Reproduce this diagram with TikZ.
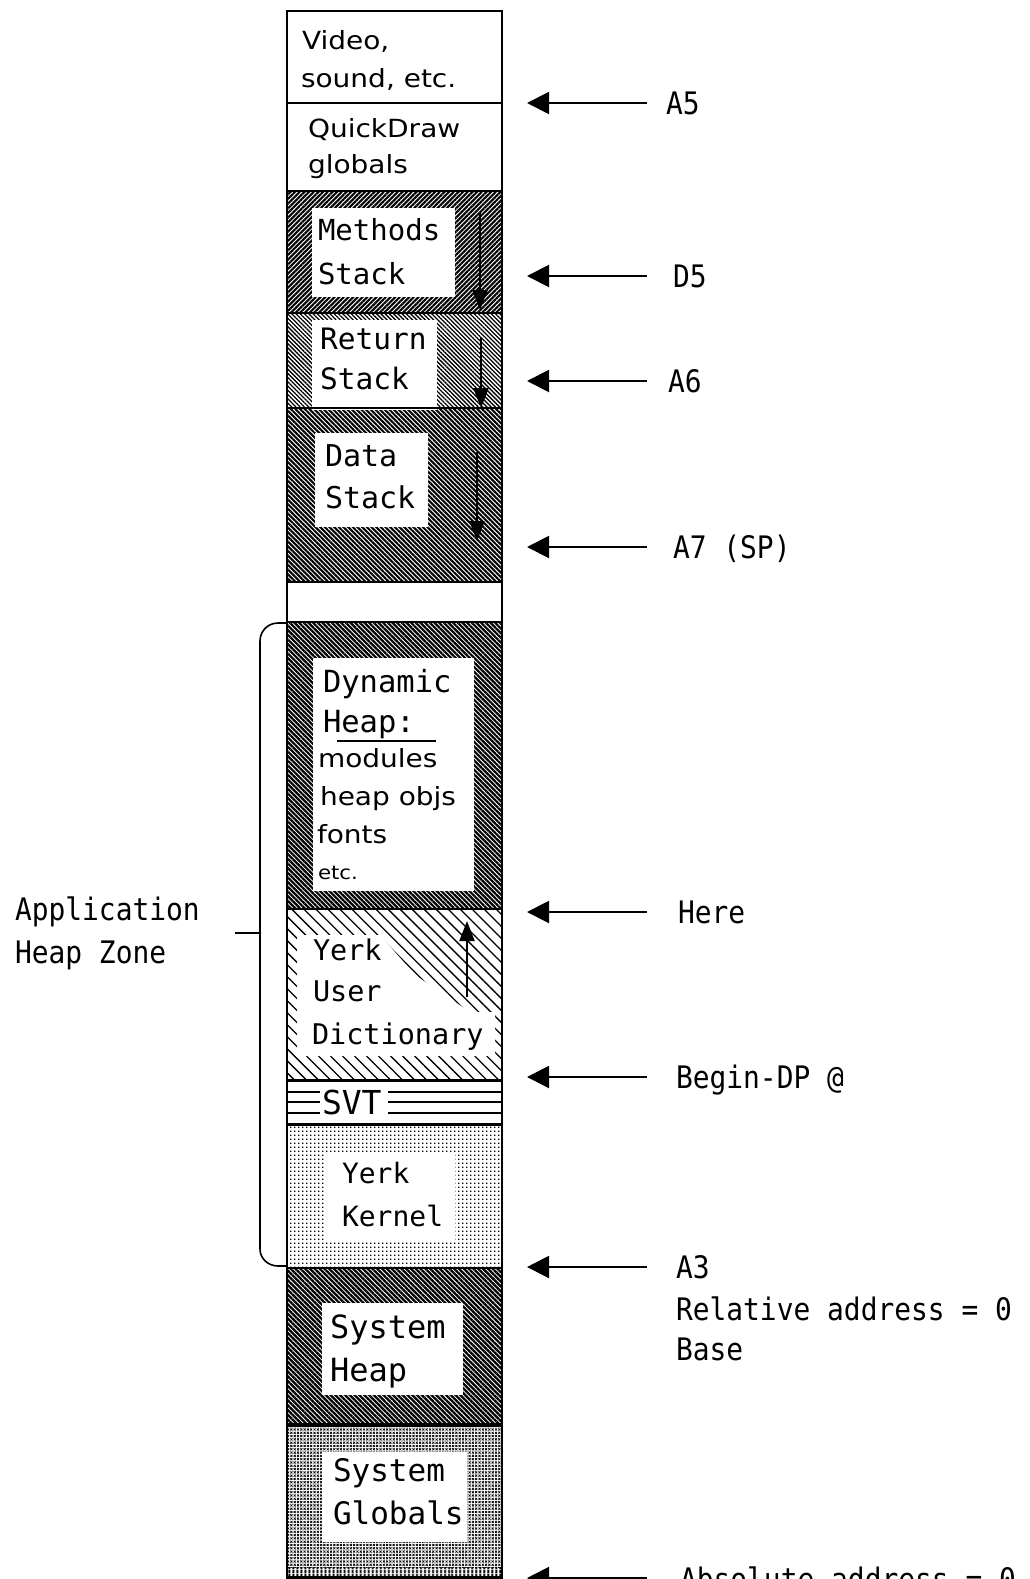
\documentclass[tikz,border=0pt]{standalone}
\usepackage{fontspec}
\setmainfont{DejaVu Sans}
\newfontfamily\genf[FakeStretch=1.12]{DejaVu Sans}
\newfontfamily\monf{DejaVu Sans Mono}
\newfontfamily\labf[FakeStretch=0.9]{DejaVu Sans Mono}
\usetikzlibrary{arrows.meta,patterns,patterns.meta}

\pgfdeclarepatternformonly{kdots}{\pgfqpoint{0pt}{0pt}}{\pgfqpoint{4.2pt}{4.2pt}}{\pgfqpoint{4.2pt}{4.2pt}}{%
  \pgfpathrectangle{\pgfqpoint{1.2pt}{1.2pt}}{\pgfqpoint{1.5pt}{1.5pt}}\pgfusepath{fill}}
\pgfdeclarepatternformonly{gx}{\pgfqpoint{-0.5pt}{-0.5pt}}{\pgfqpoint{3.5pt}{3.5pt}}{\pgfqpoint{3.3pt}{3.3pt}}{%
  \pgfsetlinewidth{0.7pt}%
  \pgfpathmoveto{\pgfqpoint{0pt}{0pt}}\pgfpathlineto{\pgfqpoint{2pt}{2pt}}%
  \pgfpathmoveto{\pgfqpoint{0pt}{2pt}}\pgfpathlineto{\pgfqpoint{2pt}{0pt}}%
  \pgfusepath{stroke}}

\tikzset{
  txt/.style={anchor=base west, inner sep=0pt, outer sep=0pt},
  gtext/.style={txt, font=\genf\fontsize{25}{30}\selectfont},
  stext/.style={txt, font=\genf\fontsize{19}{22}\selectfont},
  mtext/.style={txt, font=\monf\fontsize{#1}{#1}\selectfont},
  ltext/.style={txt, font=\labf\fontsize{31}{36}\selectfont},
  divider/.style={line width=2pt},
  ptr/.style={line width=2pt, -{Triangle[length=22pt,width=22pt]}},
  growarrow/.style={line width=2.2pt, -{Triangle[length=20pt,width=15pt]}},
  bracket/.style={line width=1.6pt},
}

\begin{document}
\begin{tikzpicture}[x=1pt,y=-1pt]
\useasboundingbox (0,0) rectangle (1029,1579);
\clip (0,0) rectangle (1029,1579);
\fill[white] (0,0) rectangle (1029,1579);

% ---- patterned regions
\fill[pattern={Lines[angle=45,distance=3.3pt,line width=2.1pt]}] (287,191) rectangle (502,313);
\fill[pattern={Lines[angle=-45,distance=3pt,line width=1.3pt]}] (287,313) rectangle (502,408);
\fill[pattern={Lines[angle=-45,distance=3.3pt,line width=2.1pt]}] (287,408) rectangle (502,582);
\fill[pattern={Lines[angle=-45,distance=3.3pt,line width=2.2pt]}] (287,622) rectangle (502,909);
\fill[pattern={Lines[angle=-45,distance=8.5pt,line width=1.3pt]}] (287,909) rectangle (502,1079);
\fill[pattern=kdots] (287,1124) rectangle (502,1268);
\fill[pattern={Lines[angle=-45,distance=3.4pt,line width=2.3pt]}] (287,1268) rectangle (502,1425);
\fill[pattern=gx] (287,1425) rectangle (502,1567);
\fill[pattern={Lines[angle=90,distance=4pt,line width=2.5pt]}] (287,1567) rectangle (502,1576);

% ---- white text backgrounds
\fill[white] (312,208) rectangle (455,297);
\fill[white] (312,320) rectangle (437,410);
\fill[white] (315,433) rectangle (428,527);
\fill[white] (313,658) rectangle (474,891);
\fill[white] (297,935) -- (380,935) -- (415,975) -- (470,1012) -- (495,1012) -- (495,1056) -- (297,1056) -- cycle;
\fill[white] (325,1153) rectangle (455,1240);
\fill[white] (322,1303) rectangle (463,1395);
\fill[white] (322,1452) rectangle (467,1542);

% ---- SVT lines
\foreach \yy in {1092,1102,1113} {
  \draw[line width=1.4pt] (287,\yy) -- (320,\yy);
  \draw[line width=1.4pt] (388,\yy) -- (502,\yy);
}
\draw[line width=3pt] (287,1080) -- (502,1080);
\draw[line width=3pt] (287,1124) -- (502,1124);

% ---- dividers
\foreach \yy in {103,191,313,408,582,622,909} {
  \draw[divider] (287,\yy) -- (502,\yy);
}
\draw[line width=1.5pt] (287,1268) -- (502,1268);
\draw[line width=4pt] (287,1425) -- (502,1425);

% ---- outer border
\draw[line width=2pt] (287,1579) -- (287,11) -- (502,11) -- (502,1579);
\draw[line width=3pt] (287,1577.5) -- (502,1577.5);

% ---- texts in the column
\node[gtext] (t1) at (302,50) {Video,};
\node[gtext] (t2) at (301,87) {sound, etc.};
\node[gtext] (t3) at (308,137) {QuickDraw};
\node[gtext] (t4) at (308,173) {globals};

\node[mtext=29] (t5) at (318,240) {Methods};
\node[mtext=29] (t6) at (318,284) {Stack};
\node[mtext=29.5] (t7) at (320,349) {Return};
\node[mtext=29.5] (t8) at (320,389) {Stack};
\node[mtext=30] (t9) at (325,466) {Data};
\node[mtext=30] (t10) at (325,508) {Stack};

\node[mtext=30.5] (t11) at (323,692) {Dynamic};
\node[mtext=30.5] (t12) at (323,732) {Heap:};
\coordinate (ul1) at (337,741);
\coordinate (ul2) at (436,741);
\draw[line width=1.6pt] (ul1) -- (ul2);
\node[gtext] (t13) at (318,767) {modules};
\node[gtext] (t14) at (320,805) {heap objs};
\node[gtext] (t15) at (317,843) {fonts};
\node[stext] (t16) at (318,879) {etc.};

\node[mtext=28.5] (t17) at (313,960) {Yerk};
\node[mtext=28.5] (t18) at (313,1001) {User};
\node[mtext=28.5] (t19) at (312,1044) {Dictionary};
\node[mtext=33] (t20) at (322,1114) {SVT};
\node[mtext=28] (t21) at (342,1183) {Yerk};
\node[mtext=28] (t22) at (342,1226) {Kernel};
\node[mtext=32] (t23) at (330,1338) {System};
\node[mtext=32] (t24) at (330,1381) {Heap};
\node[mtext=31] (t25) at (333,1481) {System};
\node[mtext=31] (t26) at (333,1524) {Globals};

% ---- growth arrows inside the column
\coordinate (m0) at (480,213);  \coordinate (m1) at (480,310);
\coordinate (r0) at (481,337);  \coordinate (r1) at (481,408);
\coordinate (d0) at (477,452);  \coordinate (d1) at (477,541);
\coordinate (u0) at (467,997);  \coordinate (u1) at (467,921);
\draw[growarrow] (m0) -- (m1);
\draw[growarrow] (r0) -- (r1);
\draw[growarrow] (d0) -- (d1);
\draw[growarrow] (u0) -- (u1);

% ---- bracket and left label
\coordinate (b1) at (287,623);
\coordinate (b2) at (278,623);
\coordinate (b3) at (260,641);
\coordinate (b4) at (260,1249);
\coordinate (b5) at (278,1266);
\coordinate (b6) at (287,1266);
\coordinate (bm) at (260,933);
\coordinate (bt) at (235,933);
\draw[bracket] (b1) -- (b2) to[out=180,in=90] (b3) -- (b4) to[out=-90,in=180] (b5) -- (b6);
\draw[bracket] (bm) -- (bt);
\node[ltext] (app1) at (15,920) {Application};
\node[ltext] (app2) at (15,963) {Heap Zone};

% ---- pointer arrows and labels
\foreach \nm/\yy in {a5/103, d5/276, a6/381, a7/547, here/912, bdp/1077, a3/1267, abs/1578} {
  \coordinate (\nm-s) at (647,\yy);
  \coordinate (\nm-e) at (527,\yy);
  \draw[ptr] (\nm-s) -- (\nm-e);
}
\node[ltext] (la5) at (666,114.3) {A5};
\node[ltext] (ld5) at (673,287.3) {D5};
\node[ltext] (la6) at (668,392.3) {A6};
\node[ltext] (la7) at (673,558.3) {A7 (SP)};
\node[ltext] (lhere) at (678,923.3) {Here};
\node[ltext] (lbdp) at (676,1088.3) {Begin-DP @};
\node[ltext] (la3) at (676,1278.3) {A3};
\node[ltext] (lrel) at (676,1320) {Relative address = 0};
\node[ltext] (lbase) at (676,1360) {Base};
\node[ltext] (labs) at (680,1590) {Absolute address = 0};
\end{tikzpicture}
\end{document}
